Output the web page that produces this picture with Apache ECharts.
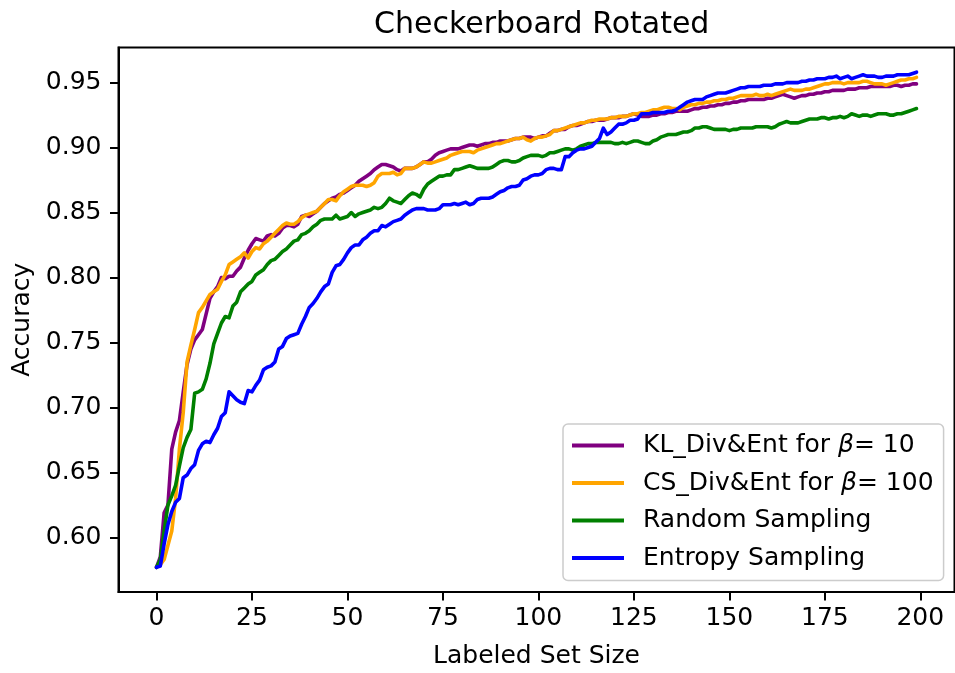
<!DOCTYPE html>
<html>
<head>
<meta charset="utf-8">
<script src="https://cdn.jsdelivr.net/npm/echarts@6/dist/echarts.min.js"></script>
<style>
html,body{margin:0;padding:0;background:#fff;}
#chart{width:955px;height:673px;}
</style>
</head>
<body>
<div id="chart"></div>
<script>
var titleText = 'Checkerboard Rotated';
var xName = 'Labeled Set Size';
var yName = 'Accuracy';
var seriesNames = ['KL_Div&Ent for β= 10', 'CS_Div&Ent for β= 100', 'Random Sampling', 'Entropy Sampling'];
var xTicks = [0, 25, 50, 75, 100, 125, 150, 175, 200];
var yTicks = [0.60, 0.65, 0.70, 0.75, 0.80, 0.85, 0.90, 0.95];

var klDivEnt = [
0.577,0.585,0.619,0.625,0.668,0.681,0.690,0.712,0.733,0.745,
0.752,0.756,0.760,0.772,0.784,0.789,0.793,0.800,0.799,0.801,
0.801,0.805,0.808,0.815,0.821,0.826,0.830,0.829,0.828,0.832,
0.833,0.832,0.834,0.838,0.840,0.840,0.839,0.841,0.847,0.848,
0.847,0.849,0.851,0.854,0.857,0.859,0.861,0.862,0.864,0.865,
0.867,0.869,0.871,0.874,0.876,0.878,0.880,0.883,0.885,0.887,
0.887,0.886,0.885,0.883,0.882,0.884,0.884,0.884,0.885,0.887,
0.889,0.889,0.891,0.894,0.896,0.897,0.898,0.899,0.899,0.899,
0.900,0.901,0.902,0.902,0.901,0.902,0.903,0.903,0.904,0.904,
0.905,0.905,0.905,0.906,0.907,0.907,0.908,0.908,0.908,0.907,
0.908,0.909,0.909,0.911,0.913,0.913,0.914,0.914,0.916,0.917,
0.917,0.918,0.919,0.920,0.920,0.921,0.921,0.921,0.922,0.923,
0.923,0.923,0.924,0.924,0.925,0.926,0.925,0.924,0.924,0.924,
0.925,0.925,0.926,0.926,0.927,0.927,0.928,0.928,0.928,0.928,
0.929,0.930,0.930,0.931,0.931,0.932,0.932,0.933,0.933,0.934,
0.934,0.935,0.935,0.936,0.936,0.937,0.937,0.937,0.937,0.937,
0.938,0.938,0.939,0.940,0.941,0.940,0.939,0.938,0.939,0.940,
0.940,0.941,0.941,0.942,0.942,0.943,0.943,0.944,0.944,0.944,
0.944,0.945,0.945,0.945,0.946,0.946,0.946,0.947,0.947,0.947,
0.947,0.947,0.947,0.948,0.948,0.947,0.948,0.948,0.949,0.949
];

var csDivEnt = [
0.577,0.579,0.583,0.594,0.605,0.630,0.668,0.696,0.735,0.748,
0.760,0.773,0.777,0.782,0.787,0.789,0.791,0.797,0.802,0.810,
0.812,0.814,0.816,0.819,0.815,0.820,0.823,0.822,0.826,0.828,
0.831,0.834,0.837,0.840,0.842,0.841,0.841,0.843,0.846,0.848,
0.849,0.850,0.851,0.854,0.857,0.860,0.860,0.859,0.863,0.866,
0.868,0.870,0.871,0.871,0.871,0.870,0.871,0.873,0.878,0.880,
0.880,0.880,0.881,0.879,0.880,0.884,0.884,0.884,0.885,0.887,
0.889,0.888,0.888,0.889,0.890,0.891,0.892,0.894,0.895,0.896,
0.897,0.897,0.897,0.896,0.898,0.899,0.900,0.901,0.902,0.903,
0.903,0.904,0.905,0.906,0.907,0.907,0.908,0.906,0.905,0.907,
0.908,0.908,0.909,0.910,0.913,0.913,0.914,0.915,0.916,0.917,
0.918,0.919,0.919,0.920,0.921,0.921,0.922,0.922,0.922,0.923,
0.923,0.924,0.924,0.924,0.925,0.926,0.926,0.927,0.927,0.928,
0.929,0.929,0.930,0.931,0.931,0.930,0.930,0.929,0.931,0.932,
0.933,0.933,0.934,0.934,0.935,0.935,0.936,0.936,0.937,0.937,
0.938,0.938,0.939,0.940,0.940,0.940,0.940,0.941,0.940,0.940,
0.941,0.940,0.941,0.942,0.943,0.944,0.945,0.944,0.944,0.944,
0.945,0.945,0.946,0.947,0.948,0.949,0.949,0.950,0.950,0.950,
0.949,0.950,0.950,0.950,0.950,0.951,0.951,0.950,0.949,0.949,
0.949,0.948,0.949,0.950,0.951,0.952,0.952,0.953,0.953,0.954
];

var randomSampling = [
0.577,0.583,0.605,0.625,0.632,0.640,0.655,0.669,0.677,0.683,
0.711,0.712,0.714,0.722,0.734,0.749,0.757,0.765,0.770,0.769,
0.778,0.781,0.789,0.792,0.795,0.797,0.802,0.804,0.806,0.810,
0.813,0.814,0.817,0.820,0.822,0.825,0.828,0.829,0.833,0.834,
0.836,0.839,0.841,0.844,0.845,0.845,0.845,0.848,0.845,0.846,
0.847,0.850,0.847,0.849,0.850,0.851,0.852,0.854,0.853,0.854,
0.857,0.861,0.859,0.858,0.857,0.860,0.863,0.865,0.864,0.862,
0.868,0.872,0.874,0.876,0.878,0.878,0.879,0.879,0.883,0.883,
0.884,0.885,0.886,0.885,0.884,0.884,0.884,0.884,0.885,0.887,
0.889,0.890,0.890,0.889,0.889,0.890,0.892,0.893,0.894,0.894,
0.894,0.893,0.894,0.896,0.896,0.897,0.898,0.899,0.899,0.898,
0.899,0.901,0.902,0.903,0.903,0.904,0.904,0.904,0.904,0.904,
0.903,0.903,0.904,0.903,0.904,0.905,0.905,0.904,0.903,0.903,
0.905,0.906,0.908,0.909,0.910,0.910,0.910,0.911,0.912,0.912,
0.913,0.915,0.915,0.916,0.916,0.915,0.914,0.914,0.914,0.914,
0.913,0.914,0.914,0.915,0.915,0.915,0.915,0.916,0.916,0.916,
0.916,0.915,0.916,0.918,0.919,0.920,0.919,0.919,0.919,0.920,
0.921,0.922,0.922,0.922,0.923,0.923,0.922,0.923,0.923,0.924,
0.923,0.924,0.926,0.925,0.924,0.925,0.925,0.924,0.925,0.926,
0.926,0.926,0.925,0.925,0.926,0.926,0.927,0.928,0.929,0.930
];

var entropySampling = [
0.577,0.578,0.595,0.610,0.620,0.627,0.630,0.646,0.648,0.653,
0.656,0.667,0.672,0.674,0.673,0.679,0.684,0.693,0.696,0.712,
0.709,0.706,0.704,0.703,0.713,0.712,0.717,0.721,0.729,0.731,
0.732,0.735,0.745,0.747,0.753,0.755,0.756,0.757,0.764,0.770,
0.777,0.780,0.784,0.789,0.793,0.795,0.804,0.809,0.810,0.814,
0.819,0.823,0.825,0.825,0.829,0.831,0.834,0.836,0.836,0.840,
0.839,0.841,0.843,0.844,0.845,0.848,0.850,0.852,0.853,0.853,
0.853,0.852,0.852,0.852,0.853,0.856,0.856,0.856,0.857,0.856,
0.857,0.858,0.856,0.857,0.860,0.861,0.861,0.861,0.862,0.864,
0.866,0.867,0.869,0.870,0.870,0.871,0.875,0.876,0.878,0.879,
0.879,0.880,0.883,0.884,0.884,0.883,0.883,0.893,0.893,0.896,
0.898,0.899,0.899,0.900,0.901,0.904,0.907,0.915,0.910,0.912,
0.915,0.918,0.918,0.919,0.921,0.921,0.922,0.926,0.926,0.926,
0.927,0.927,0.927,0.927,0.928,0.928,0.929,0.931,0.933,0.935,
0.936,0.937,0.937,0.937,0.939,0.940,0.941,0.942,0.942,0.942,
0.943,0.944,0.945,0.946,0.946,0.947,0.947,0.947,0.947,0.948,
0.948,0.948,0.949,0.949,0.949,0.950,0.950,0.950,0.950,0.951,
0.951,0.952,0.952,0.953,0.953,0.953,0.954,0.954,0.955,0.953,
0.954,0.955,0.953,0.954,0.955,0.956,0.955,0.955,0.955,0.954,
0.954,0.955,0.955,0.955,0.956,0.956,0.956,0.956,0.957,0.958
];

var allValues = [klDivEnt, csDivEnt, randomSampling, entropySampling];
var colors = ['#800080', '#FFA500', '#008000', '#0000FF'];
var FONT = 'DejaVu Sans';
var FS = 25;

function pairs(vals) {
  var out = [];
  for (var i = 0; i < vals.length; i++) out.push([i, vals[i]]);
  return out;
}

var chart = echarts.init(document.getElementById('chart'), null, {renderer: 'canvas'});
var series = seriesNames.map(function (n, k) {
  return {
    name: n,
    type: 'line',
    data: pairs(allValues[k]),
    symbol: 'none',
    showSymbol: false,
    lineStyle: {color: colors[k], width: 3.6, join: 'round', cap: 'round'},
    itemStyle: {color: colors[k]},
    emphasis: {disabled: true},
    animation: false
  };
});

chart.setOption({
  animation: false,
  backgroundColor: '#ffffff',
  title: {
    text: titleText,
    left: 536.7,
    top: 5,
    textAlign: 'center',
    textStyle: {fontFamily: FONT, fontSize: 30, fontWeight: 'normal', color: '#000'}
  },
  grid: {
    left: 118.5, right: 0.5, top: 47.5, bottom: 81,
    show: true, borderColor: '#000', borderWidth: 2,
    containLabel: false, outerBoundsMode: 'none'
  },
  legend: {
    orient: 'vertical',
    left: 563,
    top: 424,
    padding: [9, 10, 10, 9],
    itemGap: 12.5,
    itemWidth: 52,
    itemHeight: 3.8,
    icon: 'rect',
    backgroundColor: 'rgba(255,255,255,0.8)',
    borderColor: '#cccccc',
    borderWidth: 1.5,
    borderRadius: 5,
    selectedMode: false,
    data: seriesNames,
    formatter: function (n) { return n.replace('β', '{b|β}'); },
    textStyle: {
      fontFamily: FONT, fontSize: FS, color: '#000', lineHeight: 25,
      padding: [0, 0, 0, 14],
      rich: {b: {fontFamily: FONT, fontSize: FS, fontStyle: 'italic', color: '#000', lineHeight: 25}}
    }
  },
  xAxis: {
    type: 'value',
    min: -9.95,
    max: 208.95,
    name: xName,
    nameLocation: 'middle',
    nameGap: 52,
    nameTextStyle: {fontFamily: FONT, fontSize: FS, color: '#000'},
    axisLine: {show: true, onZero: false, lineStyle: {color: '#000', width: 2}},
    axisTick: {show: true, length: 8.5, inside: false, customValues: xTicks, lineStyle: {color: '#000', width: 2}},
    axisLabel: {show: true, margin: 14, customValues: xTicks, fontFamily: FONT, fontSize: FS, color: '#000'},
    splitLine: {show: false}
  },
  yAxis: {
    type: 'value',
    min: 0.558,
    max: 0.977,
    name: yName,
    nameLocation: 'middle',
    nameGap: 84,
    nameRotate: 90,
    nameTextStyle: {fontFamily: FONT, fontSize: FS, color: '#000'},
    axisLine: {show: true, onZero: false, lineStyle: {color: '#000', width: 2}},
    axisTick: {show: true, length: 8.5, inside: false, customValues: yTicks, lineStyle: {color: '#000', width: 2}},
    axisLabel: {show: true, margin: 17, customValues: yTicks, fontFamily: FONT, fontSize: FS, color: '#000',
      formatter: function (v) { return v.toFixed(2); }},
    splitLine: {show: false}
  },
  series: series
});
</script>
</body>
</html>
